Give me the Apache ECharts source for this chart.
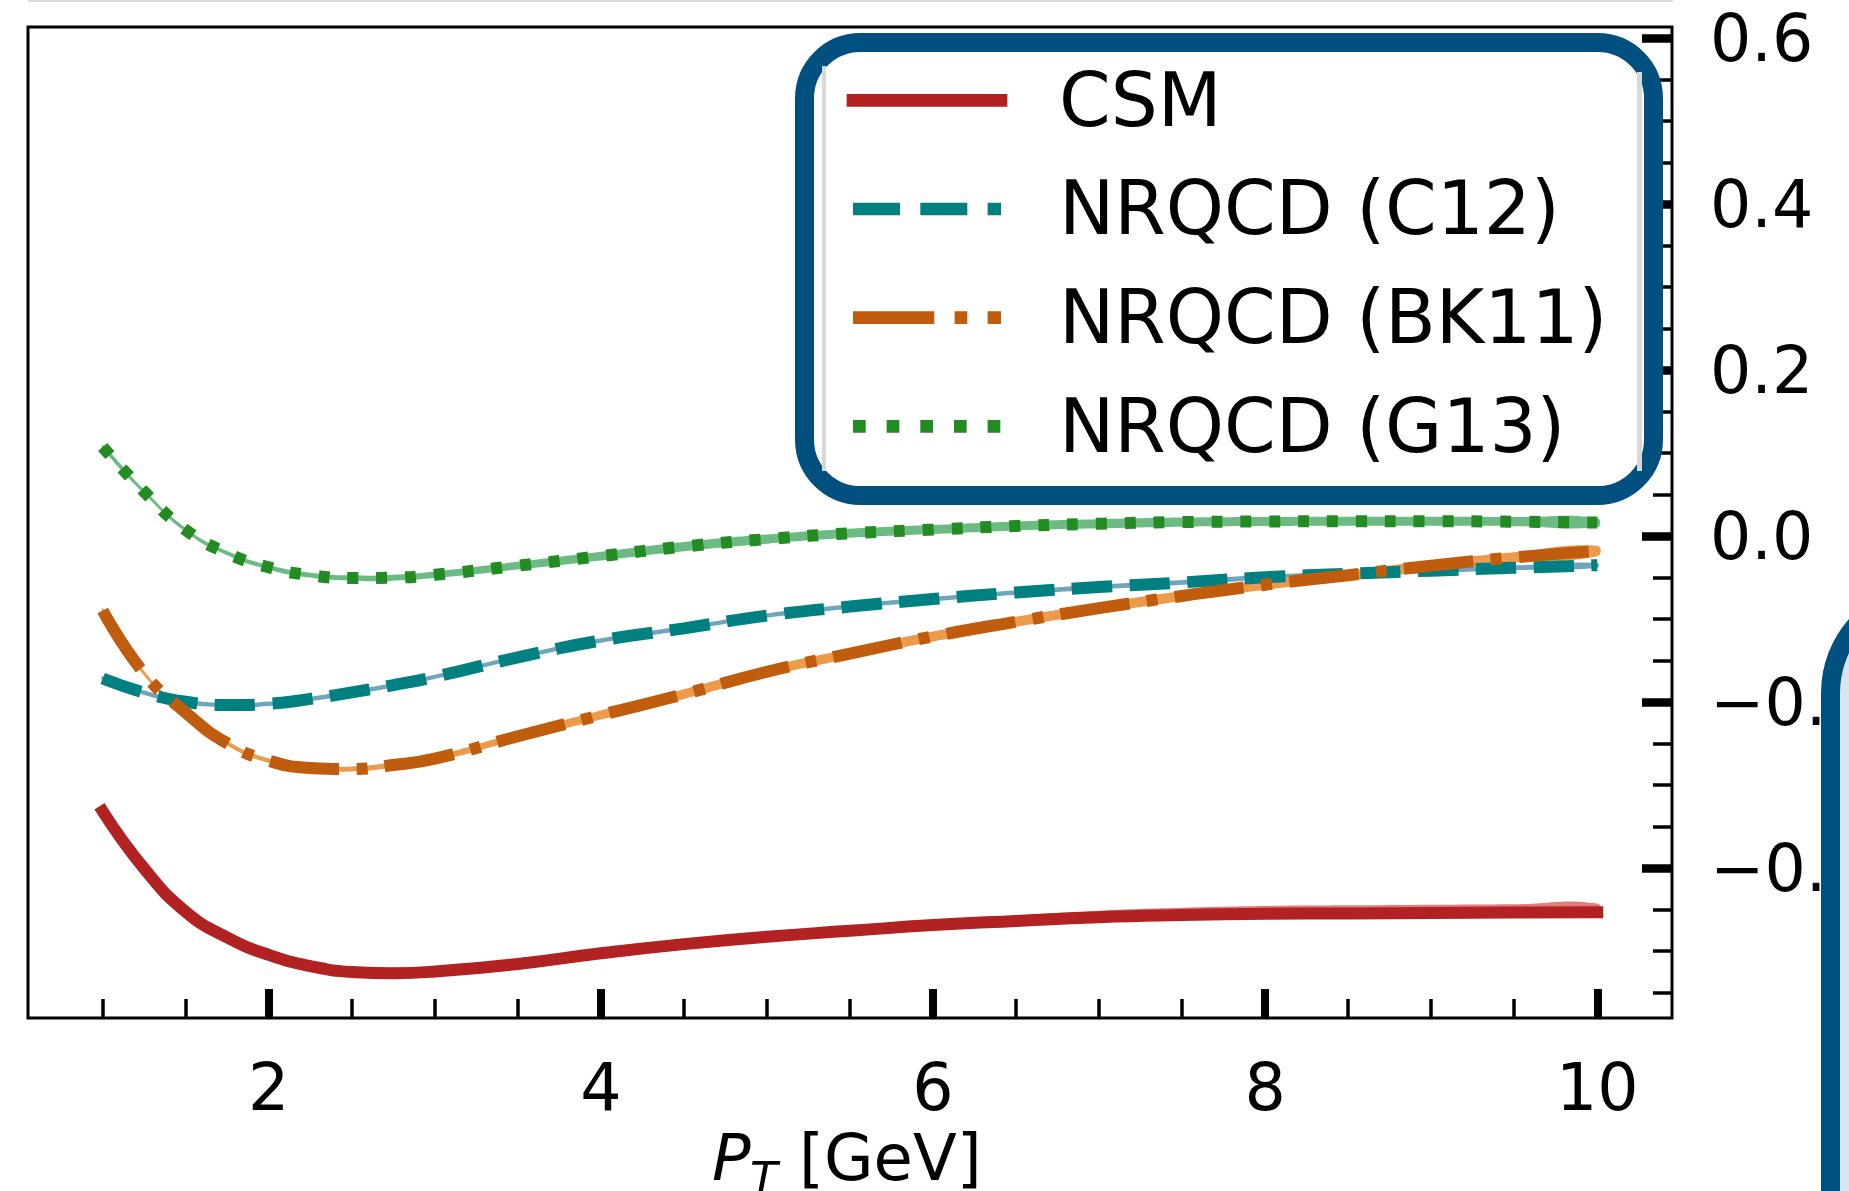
<!DOCTYPE html>
<html>
<head>
<meta charset="utf-8">
<script src="https://cdn.jsdelivr.net/npm/echarts@6.0.0/dist/echarts.min.js"></script>
<style>
  html, body { margin: 0; padding: 0; background: #ffffff; }
  #chart { width: 1849px; height: 1191px; }
</style>
</head>
<body>
<div id="chart"></div>
<script>
// Transverse momentum grid (GeV)
const pt = [1, 1.25, 1.5, 1.75, 2, 2.25, 2.5, 2.75, 3, 3.5, 4, 4.5, 5, 5.5, 6, 6.5, 7, 7.5, 8, 8.5, 9, 9.5, 10];

// Colour-singlet model
const csm = [-0.332, -0.401, -0.453, -0.484, -0.505, -0.5185, -0.5255, -0.527, -0.525, -0.516, -0.503, -0.492, -0.483, -0.476, -0.469, -0.464, -0.4595, -0.457, -0.4555, -0.455, -0.4545, -0.454, -0.4535];
const csmBandUp = [0.004, 0.004, 0.004, 0.004, 0.004, 0.004, 0.004, 0.004, 0.004, 0.004, 0.004, 0.0042, 0.0045, 0.005, 0.0055, 0.0065, 0.0078, 0.0088, 0.0094, 0.0097, 0.01, 0.0102, 0.0104];
const csmBandDown = [0.004, 0.004, 0.004, 0.004, 0.004, 0.004, 0.004, 0.004, 0.004, 0.004, 0.004, 0.004, 0.004, 0.004, 0.004, 0.004, 0.004, 0.004, 0.004, 0.004, 0.004, 0.004, 0.004];

// NRQCD with C12 LDMEs
const c12 = [-0.172, -0.189, -0.200, -0.204, -0.2025, -0.1965, -0.1887, -0.180, -0.170, -0.1465, -0.1262, -0.1115, -0.0962, -0.0853, -0.0762, -0.0683, -0.0618, -0.0562, -0.050, -0.0458, -0.042, -0.0386, -0.0354];
const c12Err = [0.0027, 0.0027, 0.0027, 0.0027, 0.0027, 0.0027, 0.0027, 0.0027, 0.0027, 0.0027, 0.0027, 0.0027, 0.0027, 0.0027, 0.0028, 0.0028, 0.0028, 0.0028, 0.0029, 0.0029, 0.003, 0.003, 0.003];

// NRQCD with BK11 LDMEs
const bk11 = [-0.090, -0.166, -0.213, -0.250, -0.271, -0.2797, -0.281, -0.2762, -0.2685, -0.2415, -0.216, -0.1908, -0.1638, -0.142, -0.1213, -0.1035, -0.0872, -0.0725, -0.059, -0.0475, -0.036, -0.026, -0.0184];
const bk11Err = [0.0027, 0.0027, 0.0027, 0.0027, 0.0027, 0.0028, 0.003, 0.0033, 0.0037, 0.0046, 0.0054, 0.0058, 0.006, 0.006, 0.006, 0.006, 0.006, 0.006, 0.006, 0.006, 0.006, 0.0062, 0.0064];

// NRQCD with G13 LDMEs
const g13 = [0.107, 0.053, 0.007, -0.021, -0.038, -0.0474, -0.051, -0.0505, -0.047, -0.036, -0.0245, -0.013, -0.004, 0.003, 0.0075, 0.0118, 0.0145, 0.0165, 0.0172, 0.0175, 0.0175, 0.017, 0.016];
const g13Err = [0.0024, 0.0024, 0.0025, 0.0026, 0.0028, 0.003, 0.0033, 0.0036, 0.004, 0.0046, 0.0052, 0.0055, 0.0055, 0.0055, 0.0055, 0.0055, 0.0055, 0.0055, 0.0055, 0.0055, 0.0055, 0.0055, 0.0055];

// Axis ticks
const xMajorTicks = [2, 4, 6, 8, 10];
const xMinorTicks = [1, 1.5, 2.5, 3, 3.5, 4.5, 5, 5.5, 6.5, 7, 7.5, 8.5, 9, 9.5];
const yMajorTicks = [-0.4, -0.2, 0, 0.2, 0.4, 0.6];
const yMinorTicks = [-0.55, -0.5, -0.45, -0.35, -0.3, -0.25, -0.15, -0.1, -0.05, 0.05, 0.1, 0.15, 0.25, 0.3, 0.35, 0.45, 0.5, 0.55];

const legendNames = ['CSM', 'NRQCD (C12)', 'NRQCD (BK11)', 'NRQCD (G13)'];

const FONT = 'DejaVu Sans';
const LW = 12;     // curve line width
const DU = 10.9;   // dash unit for the curves
const LLW = 12.7;  // legend handle line width (and its dash unit)

const models = [
  { name: legendNames[0], y: csm, lo: csmBandDown, hi: csmBandUp, color: '#b22222', band: '#e47c7c', dash: 'solid', legendDash: null, cap: 'square' },
  { name: legendNames[1], y: c12, lo: c12Err, hi: c12Err, color: '#008080', band: '#6ea7bd', dash: [3.7 * DU, 1.6 * DU], legendDash: [3.7 * LLW, 1.6 * LLW], cap: 'butt' },
  { name: legendNames[2], y: bk11, lo: bk11Err, hi: bk11Err, color: '#c05c0e', band: '#ec9a4c', dash: [6.4 * DU, 1.6 * DU, 1 * DU, 1.6 * DU], legendDash: [6.4 * LLW, 1.6 * LLW, 1 * LLW, 1.6 * LLW], cap: 'butt' },
  { name: legendNames[3], y: g13, lo: g13Err, hi: g13Err, color: '#228b22', band: '#6cbb82', dash: [1 * DU, 1.65 * DU], legendDash: [1 * LLW, 1.65 * LLW], cap: 'butt' }
];

function pairs(ys) { return pt.map((x, i) => [x, ys[i]]); }

// Uncertainty band: closed smooth outline through the upper edge and back along the lower edge
function bandSeries(m) {
  const upper = m.y.map((v, i) => v + m.hi[i]);
  const lower = m.y.map((v, i) => v - m.lo[i]);
  return {
    type: 'custom', name: m.name + ' band', silent: true, z: 2, clip: true,
    data: [[pt[0], m.y[0]]],
    renderItem: function (params, api) {
      const pts = [];
      for (let i = 0; i < pt.length; i++) pts.push(api.coord([pt[i], upper[i]]));
      for (let i = pt.length - 1; i >= 0; i--) pts.push(api.coord([pt[i], lower[i]]));
      return { type: 'polygon', shape: { points: pts, smooth: 0.5 }, style: { fill: m.band } };
    }
  };
}

const series = [];
models.forEach((m) => series.push(bandSeries(m)));
models.forEach((m) => {
  series.push({
    type: 'line', name: m.name, data: pairs(m.y), smooth: true, symbol: 'none', silent: true,
    lineStyle: { color: m.color, width: LW, type: m.dash, cap: m.cap }, z: 3
  });
});

const axisCommon = {
  type: 'value', gridIndex: 0,
  axisLine: { show: false, onZero: false },
  splitLine: { show: false }
};

const xAxes = [
  Object.assign({}, axisCommon, {
    min: 0.55, max: 10.45, position: 'bottom',
    axisTick: { show: true, inside: true, length: 29, customValues: xMajorTicks, lineStyle: { color: '#000', width: 8 } },
    axisLabel: { show: true, customValues: xMajorTicks, margin: 43, fontSize: 65, fontFamily: FONT, color: '#000' }
  }),
  Object.assign({}, axisCommon, {
    min: 0.55, max: 10.45, position: 'bottom',
    axisTick: { show: true, inside: true, length: 19, customValues: xMinorTicks, lineStyle: { color: '#000', width: 3.5 } },
    axisLabel: { show: false }
  })
];

const yFmt = (v) => (v < -1e-9 ? '\u2212' : '') + Math.abs(v).toFixed(1);

const yAxes = [
  Object.assign({}, axisCommon, {
    min: -0.581, max: 0.613, position: 'right',
    axisTick: { show: true, inside: true, length: 30, customValues: yMajorTicks, lineStyle: { color: '#000', width: 8.5 } },
    // a short line box hung below the tick centres the digits on it
    axisLabel: { show: true, customValues: yMajorTicks, formatter: yFmt, margin: 38, fontSize: 65, fontFamily: FONT, color: '#000', verticalAlign: 'top', lineHeight: 12 }
  }),
  Object.assign({}, axisCommon, {
    min: -0.581, max: 0.613, position: 'right',
    axisTick: { show: true, inside: true, length: 19, customValues: yMinorTicks, lineStyle: { color: '#000', width: 3.5 } },
    axisLabel: { show: false }
  })
];

// Legend drawn as a rounded, heavy-framed box
const legendRows = [100.3, 209, 317.6, 426.3];
const legendEls = [
  { type: 'rect', z: 100, shape: { x: 804.5, y: 42.5, width: 849, height: 453, r: 56 },
    style: { fill: '#ffffff', stroke: '#00507f', lineWidth: 19 } },
  { type: 'rect', z: 101, shape: { x: 822, y: 66, width: 4, height: 405 }, style: { fill: '#d9d9d9' } },
  { type: 'rect', z: 101, shape: { x: 1637, y: 72, width: 5, height: 399 }, style: { fill: '#d9d9d9' } }
];
models.forEach((m, i) => {
  legendEls.push({
    type: 'line', z: 102,
    shape: { x1: 853, y1: legendRows[i], x2: 1001, y2: legendRows[i] },
    style: { stroke: m.color, lineWidth: LLW, lineDash: m.legendDash, lineCap: m.cap }
  });
  legendEls.push({
    type: 'text', z: 102, x: 1059, y: legendRows[i] + 6,
    style: { text: legendNames[i], font: '74px "DejaVu Sans"', fill: '#000', align: 'left', verticalAlign: 'middle' }
  });
});

// x-axis title: P_T [GeV]
const titleEls = [
  { type: 'text', z: 20, x: 712, y: 1163, style: { text: 'P', font: 'italic 64px "DejaVu Sans"', fill: '#000', align: 'left', verticalAlign: 'middle' } },
  { type: 'text', z: 20, x: 750, y: 1182, style: { text: 'T', font: 'italic 45px "DejaVu Sans"', fill: '#000', align: 'left', verticalAlign: 'middle' } },
  { type: 'text', z: 20, x: 799, y: 1163, style: { text: '[GeV]', font: '64px "DejaVu Sans"', fill: '#000', align: 'left', verticalAlign: 'middle' } }
];

// Neighbouring panel edges
const frameEls = [
  { type: 'rect', z: 5, shape: { x: 28, y: 0, width: 1645, height: 2 }, style: { fill: '#dcdcdc' } },
  { type: 'rect', z: 110, shape: { x: 1830.5, y: 590.5, width: 300, height: 800, r: 102.5 },
    style: { fill: '#d6e6f0', stroke: '#00507f', lineWidth: 19 } }
];

const chart = echarts.init(document.getElementById('chart'), null, { renderer: 'canvas' });
chart.setOption({
  animation: false,
  backgroundColor: '#ffffff',
  grid: {
    left: 28, top: 27, right: 177, bottom: 173,
    containLabel: false, outerBoundsMode: 'none',
    show: true, borderColor: '#000', borderWidth: 3, backgroundColor: 'transparent'
  },
  xAxis: xAxes,
  yAxis: yAxes,
  series: series,
  graphic: { elements: frameEls.concat(legendEls, titleEls) }
});
</script>
</body>
</html>
